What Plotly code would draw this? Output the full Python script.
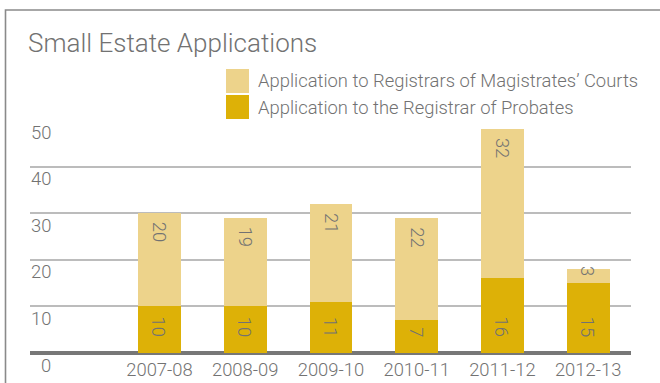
import plotly.graph_objects as go

# Small estate applications per financial year
years = ["2007-08", "2008-09", "2009-10", "2010-11", "2011-12", "2012-13"]
probates = [10, 10, 11, 7, 16, 15]          # Registrar of Probates
magistrates = [20, 19, 21, 22, 32, 3]       # Registrars of Magistrates' Courts
y_ticks = [0, 10, 20, 30, 40, 50]

series_names = [
    "Application to Registrars of Magistrates’ Courts",
    "Application to the Registrar of Probates",
]

LIGHT = "#EDD38B"
DARK = "#DDB107"
TEXT = "#727272"
FONT = "Roboto"

W, H = 660, 383
ML, MR, MT, MB = 30, 29, 120, 30
PW, PH = W - ML - MR, H - MT - MB


def px_x(px):
    return (px - ML) / PW


def px_y(py):
    return (H - MB - py) / PH


fig = go.Figure()
fig.add_trace(go.Bar(x=years, y=probates, name=series_names[1],
                     marker=dict(color=DARK, line=dict(width=0)), width=0.5))
fig.add_trace(go.Bar(x=years, y=magistrates, name=series_names[0],
                     marker=dict(color=LIGHT, line=dict(width=0)), width=0.5))

font_lbl = dict(family=FONT, size=18.4, color=TEXT, weight=300)
ann = []

# value labels, rotated, inside each segment
for yr, p, m in zip(years, probates, magistrates):
    ann.append(dict(x=yr, y=0, xref="x", yref="y", text=str(p), textangle=90,
                    showarrow=False, yanchor="bottom", yshift=14, font=font_lbl))
    seg_px = m * PH / 50
    if seg_px < len(str(m)) * 10 + 18:
        ann.append(dict(x=yr, y=p + m, xref="x", yref="y", text=str(m), textangle=90,
                        showarrow=False, yanchor="middle", yshift=-2, font=font_lbl))
    else:
        ann.append(dict(x=yr, y=p + m, xref="x", yref="y", text=str(m), textangle=90,
                        showarrow=False, yanchor="top", yshift=-7, font=font_lbl))

# y tick labels sit just below their gridlines
for t in y_ticks:
    ann.append(dict(x=px_x(53), y=t, xref="paper", yref="y", text=str(t),
                    showarrow=False, xanchor="right", yanchor="middle", yshift=-12,
                    font=font_lbl))

# title
ann.append(dict(x=px_x(26), y=px_y(43), xref="paper", yref="paper",
                text="Small Estate Applications", showarrow=False,
                xanchor="left", yanchor="middle",
                font=dict(family=FONT, size=26, color=TEXT, weight=300)))

# legend
shapes = []
for i, (name, col) in enumerate(zip(series_names, [LIGHT, DARK])):
    top = 69 + i * 26
    shapes.append(dict(type="rect", xref="paper", yref="paper",
                       x0=px_x(226), x1=px_x(249), y0=px_y(top + 24), y1=px_y(top),
                       fillcolor=col, line=dict(width=0), layer="above"))
    ann.append(dict(x=px_x(256), y=px_y(top + 12), xref="paper", yref="paper",
                    text=name, showarrow=False, xanchor="left", yanchor="middle",
                    font=font_lbl))

# frame around the panel
shapes.append(dict(type="path", xref="paper", yref="paper",
                   path=f"M {px_x(5.5)},{px_y(400)} L {px_x(5.5)},{px_y(10)} L {px_x(700)},{px_y(10)}",
                   line=dict(color="#8a8a8a", width=1.6)))

fig.update_layout(
    width=W, height=H,
    margin=dict(l=ML, r=MR, t=MT, b=MB, autoexpand=False),
    paper_bgcolor="white", plot_bgcolor="white",
    barmode="stack", showlegend=False,
    annotations=ann, shapes=shapes,
    xaxis=dict(type="category", range=[-1.51, 5.5], showgrid=False, zeroline=False,
               showline=False, ticks="", tickfont=font_lbl, ticklabelstandoff=4,
               automargin=False),
    yaxis=dict(range=[0, 50], tickvals=y_ticks, showticklabels=False,
               showgrid=True, gridcolor="#bcbcbc", gridwidth=2,
               zeroline=True, zerolinecolor="#777777", zerolinewidth=4,
               showline=False, ticks="", automargin=False),
)

fig.write_html("out.html")
